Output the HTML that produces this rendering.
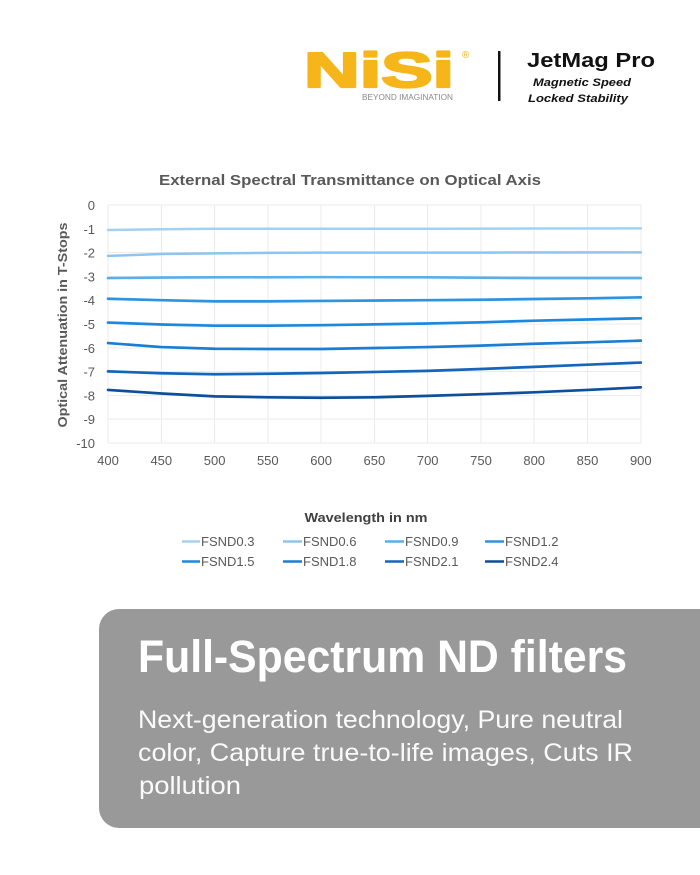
<!DOCTYPE html>
<html><head><meta charset="utf-8"><style>
html,body{margin:0;padding:0;background:#fff;}
svg{display:block;}
text{font-family:"Liberation Sans",sans-serif;}
</style></head><body>
<svg width="700" height="875" viewBox="0 0 700 875" xmlns="http://www.w3.org/2000/svg">
<rect width="700" height="875" fill="#fff"/>
<!-- Logo -->
<text x="304" y="87" font-size="49" font-weight="bold" fill="#f6b519" stroke="#f6b519" stroke-width="2.2" stroke-linejoin="round" textLength="150" lengthAdjust="spacingAndGlyphs">NiSi</text>
<text x="462" y="58" font-size="10" fill="#f6b519">®</text>
<text x="362" y="100" font-size="8.5" fill="#8a8a8a" textLength="91" lengthAdjust="spacingAndGlyphs">BEYOND IMAGINATION</text>
<rect x="498" y="51" width="2.5" height="50" fill="#111"/>
<text x="527" y="67" font-size="20" font-weight="bold" fill="#111" textLength="128" lengthAdjust="spacingAndGlyphs">JetMag Pro</text>
<text x="533" y="86" font-size="11" font-weight="bold" font-style="italic" fill="#111" textLength="98" lengthAdjust="spacingAndGlyphs">Magnetic Speed</text>
<text x="528" y="102" font-size="11" font-weight="bold" font-style="italic" fill="#111" textLength="100" lengthAdjust="spacingAndGlyphs">Locked  Stability</text>

<!-- Chart title -->
<text x="159" y="185" font-size="15" font-weight="bold" fill="#595959" textLength="382" lengthAdjust="spacingAndGlyphs">External Spectral Transmittance on Optical Axis</text>

<!-- Gridlines -->
<g stroke="#ebebeb" stroke-width="1" shape-rendering="crispEdges">
<line x1="108" y1="205" x2="641" y2="205"/>
<line x1="108" y1="228.8" x2="641" y2="228.8"/>
<line x1="108" y1="252.6" x2="641" y2="252.6"/>
<line x1="108" y1="276.4" x2="641" y2="276.4"/>
<line x1="108" y1="300.2" x2="641" y2="300.2"/>
<line x1="108" y1="324" x2="641" y2="324"/>
<line x1="108" y1="347.8" x2="641" y2="347.8"/>
<line x1="108" y1="371.6" x2="641" y2="371.6"/>
<line x1="108" y1="395.4" x2="641" y2="395.4"/>
<line x1="108" y1="419.2" x2="641" y2="419.2"/>
<line x1="108" y1="443" x2="641" y2="443"/>
<line x1="108" y1="205" x2="108" y2="443"/>
<line x1="161.3" y1="205" x2="161.3" y2="443"/>
<line x1="214.6" y1="205" x2="214.6" y2="443"/>
<line x1="267.8" y1="205" x2="267.8" y2="443"/>
<line x1="321.1" y1="205" x2="321.1" y2="443"/>
<line x1="374.4" y1="205" x2="374.4" y2="443"/>
<line x1="427.7" y1="205" x2="427.7" y2="443"/>
<line x1="481" y1="205" x2="481" y2="443"/>
<line x1="534.2" y1="205" x2="534.2" y2="443"/>
<line x1="587.5" y1="205" x2="587.5" y2="443"/>
<line x1="640.8" y1="205" x2="640.8" y2="443"/>
</g>

<!-- Y tick labels -->
<g font-size="13" fill="#595959" text-anchor="end">
<text x="95" y="210">0</text>
<text x="95" y="233.8">-1</text>
<text x="95" y="257.6">-2</text>
<text x="95" y="281.4">-3</text>
<text x="95" y="305.2">-4</text>
<text x="95" y="329">-5</text>
<text x="95" y="352.8">-6</text>
<text x="95" y="376.6">-7</text>
<text x="95" y="400.4">-8</text>
<text x="95" y="424.2">-9</text>
<text x="95" y="448">-10</text>
</g>
<!-- X tick labels -->
<g font-size="13" fill="#595959" text-anchor="middle">
<text x="108" y="465">400</text>
<text x="161.3" y="465">450</text>
<text x="214.6" y="465">500</text>
<text x="267.8" y="465">550</text>
<text x="321.1" y="465">600</text>
<text x="374.4" y="465">650</text>
<text x="427.7" y="465">700</text>
<text x="481" y="465">750</text>
<text x="534.2" y="465">800</text>
<text x="587.5" y="465">850</text>
<text x="640.8" y="465">900</text>
</g>

<!-- Y axis title -->
<text transform="translate(67,325) rotate(-90)" text-anchor="middle" font-size="13" font-weight="bold" fill="#595959" textLength="205" lengthAdjust="spacingAndGlyphs">Optical Attenuation in T-Stops</text>

<!-- Series -->
<g transform="translate(108,205) scale(1.0656,23.8)" fill="none" stroke-linejoin="round" stroke-linecap="round">
<polyline vector-effect="non-scaling-stroke" stroke="#a3d1f2" stroke-width="2.5" points="0,1.05 50,1.02 100,1.0 200,1.0 300,1.0 400,0.99 500,0.98"/>
<polyline vector-effect="non-scaling-stroke" stroke="#8cc5ef" stroke-width="2.5" points="0,2.14 50,2.06 100,2.03 150,2.01 200,2.0 350,2.0 500,1.99"/>
<polyline vector-effect="non-scaling-stroke" stroke="#5aaee9" stroke-width="2.6" points="0,3.07 50,3.05 100,3.04 200,3.03 300,3.04 400,3.07 500,3.07"/>
<polyline vector-effect="non-scaling-stroke" stroke="#2d94e2" stroke-width="2.7" points="0,3.94 50,4.0 100,4.05 150,4.05 200,4.03 300,4.0 350,3.98 400,3.95 450,3.92 500,3.88"/>
<polyline vector-effect="non-scaling-stroke" stroke="#1c88e0" stroke-width="2.7" points="0,4.94 50,5.02 100,5.07 150,5.07 200,5.05 300,4.98 350,4.93 400,4.86 450,4.81 500,4.76"/>
<polyline vector-effect="non-scaling-stroke" stroke="#1b7dd4" stroke-width="2.7" points="0,5.8 50,5.97 100,6.04 150,6.05 200,6.05 300,5.97 350,5.91 400,5.83 450,5.77 500,5.70"/>
<polyline vector-effect="non-scaling-stroke" stroke="#1566bb" stroke-width="2.7" points="0,6.99 50,7.07 100,7.11 150,7.09 200,7.06 300,6.97 350,6.89 400,6.80 450,6.71 500,6.62"/>
<polyline vector-effect="non-scaling-stroke" stroke="#0e4f9c" stroke-width="2.7" points="0,7.77 50,7.92 100,8.04 150,8.08 200,8.1 250,8.08 300,8.02 350,7.95 400,7.87 450,7.77 500,7.66"/>
</g>

<!-- X axis title -->
<text x="366" y="522" text-anchor="middle" font-size="13" font-weight="bold" fill="#404040" textLength="123" lengthAdjust="spacingAndGlyphs">Wavelength in nm</text>

<!-- Legend -->
<g stroke-width="2.5">
<line x1="182" y1="541.5" x2="200" y2="541.5" stroke="#a3d1f2"/>
<line x1="283" y1="541.5" x2="302" y2="541.5" stroke="#8cc5ef"/>
<line x1="385" y1="541.5" x2="404" y2="541.5" stroke="#5aaee9"/>
<line x1="485" y1="541.5" x2="504" y2="541.5" stroke="#2d94e2"/>
<line x1="182" y1="561.5" x2="200" y2="561.5" stroke="#1c88e0"/>
<line x1="283" y1="561.5" x2="302" y2="561.5" stroke="#1b7dd4"/>
<line x1="385" y1="561.5" x2="404" y2="561.5" stroke="#1566bb"/>
<line x1="485" y1="561.5" x2="504" y2="561.5" stroke="#0e4f9c"/>
</g>
<g font-size="13" fill="#595959">
<text x="201" y="546">FSND0.3</text>
<text x="303" y="546">FSND0.6</text>
<text x="405" y="546">FSND0.9</text>
<text x="505" y="546">FSND1.2</text>
<text x="201" y="566">FSND1.5</text>
<text x="303" y="566">FSND1.8</text>
<text x="405" y="566">FSND2.1</text>
<text x="505" y="566">FSND2.4</text>
</g>

<!-- Gray box -->
<path d="M119,609 H700 V828 H119 A20,20 0 0 1 99,808 V629 A20,20 0 0 1 119,609 Z" fill="#999999"/>
<text x="138" y="672" font-size="45" font-weight="bold" fill="#fff" textLength="489" lengthAdjust="spacingAndGlyphs">Full-Spectrum ND filters</text>
<g font-size="25" fill="#fafafa">
<text x="138" y="728" textLength="485" lengthAdjust="spacingAndGlyphs">Next-generation technology, Pure neutral</text>
<text x="138" y="761" textLength="495" lengthAdjust="spacingAndGlyphs">color, Capture true-to-life images, Cuts IR</text>
<text x="139" y="794" textLength="102" lengthAdjust="spacingAndGlyphs">pollution</text>
</g>
</svg>
</body></html>
